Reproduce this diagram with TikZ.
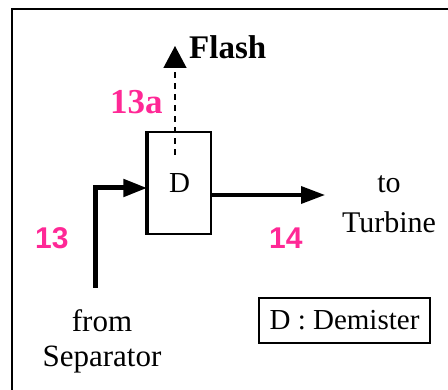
\documentclass[tikz,border=0pt]{standalone}
\usepackage{fontspec}
\setmainfont{Liberation Serif}
\setsansfont{Liberation Sans}
\usetikzlibrary{arrows.meta,positioning}

\definecolor{tagpink}{RGB}{255,40,150}

\begin{document}
\begin{tikzpicture}[
  x=1pt, y=-1pt,
  unit/.style={draw, line width=1.5pt, minimum width=63pt, minimum height=102pt, inner sep=0pt, font=\fontsize{29}{34}\selectfont},
  stream/.style={line width=4pt, -{Triangle[length=24pt,width=17pt]}},
  vent/.style={line width=1.3pt, dash pattern=on 6pt off 5pt, -{Triangle[length=22pt,width=23pt]}},
  tag/.style={text=tagpink, inner sep=0pt, anchor=base west},
  txt/.style={inner sep=0pt, align=center, anchor=base}
]
  \useasboundingbox (0,0) rectangle (448,390);
  % outer frame (only top and left edges show)
  \draw[line width=2.5pt] (12,390) -- (12,9) -- (448,9);

  % demister
  \node[unit] (dem) at (179.5,183) {D};
  \draw[line width=4pt] (dem.south west) -- (dem.north west);

  % streams
  \coordinate (sep) at (95,288);
  \coordinate (turb) at (325,195);
  \coordinate (fl) at (175,46);
  \draw[stream, line width=5pt] (sep) |- ([yshift=-5pt]dem.west);
  \draw[stream, line width=3.5pt] (dem.east |- turb) -- (turb);
  \draw[vent] (175,155) -- (fl);

  % labels
  \node[inner sep=0pt, anchor=base west, font=\fontsize{33}{38}\selectfont\bfseries] (flash) at (189,59) {Flash};
  \node[tag, font=\fontsize{35}{40}\selectfont\bfseries] (l13a) at (110,114) {13a};
  \node[tag, font=\fontsize{30}{36}\selectfont\sffamily\bfseries] (l13) at (35,249) {13};
  \node[tag, font=\fontsize{30}{36}\selectfont\sffamily\bfseries] (l14) at (269,249) {14};
  \node[txt, font=\fontsize{30}{40}\selectfont] (toturb) at (389,233) {to\\Turbine};
  \node[txt, font=\fontsize{31}{35}\selectfont] (fromsep) at (102,367) {from\\Separator};

  % legend
  \node[draw, line width=1.3pt, minimum width=171pt, minimum height=45pt, inner sep=0pt, font=\fontsize{29}{34}\selectfont] (legend) at (344.5,320.5) {D : Demister};
\end{tikzpicture}
\end{document}
